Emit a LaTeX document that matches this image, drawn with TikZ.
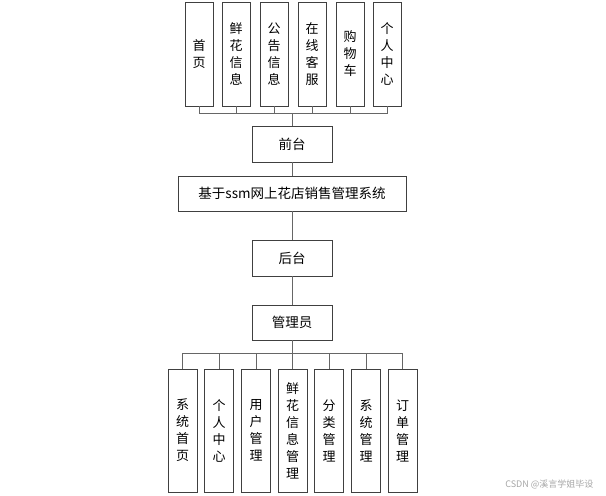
\documentclass[tikz,border=0pt]{standalone}
\usepackage{fontspec}
\setmainfont{Noto Sans CJK SC}

\begin{document}
\begin{tikzpicture}[x=1pt, y=-1pt,
    colbox/.style={draw=black!75, line width=0.9pt, inner sep=0pt, align=center,
                   minimum width=28pt, minimum height=104pt,
                   font=\fontsize{13}{17}\selectfont},
    botbox/.style={colbox, minimum width=29pt, minimum height=123pt},
    rowbox/.style={draw=black!75, line width=0.9pt, inner sep=0pt,
                   minimum width=80pt, minimum height=36pt,
                   font=\fontsize{13.5}{16}\selectfont},
    link/.style={draw=black!60, line width=1pt}
  ]
    \useasboundingbox (0,0) rectangle (606,496);

    % front-end modules
    \node[colbox] (t1) at (199, 54) {首\\页};
    \node[colbox] (t2) at (236, 54) {鲜\\花\\信\\息};
    \node[colbox] (t3) at (274, 54) {公\\告\\信\\息};
    \node[colbox] (t4) at (312, 54) {在\\线\\客\\服};
    \node[colbox] (t5) at (350, 54) {购\\物\\车};
    \node[colbox] (t6) at (387, 54) {个\\人\\中\\心};

    \node[rowbox] (front) at (292, 144)   {前台};
    \node[rowbox, minimum width=228pt, minimum height=35pt]
                  (sys)   at (292, 193.5) {基于ssm网上花店销售管理系统};
    \node[rowbox] (back)  at (292, 258)   {后台};
    \node[rowbox, minimum height=35pt]
                  (admin) at (292, 322.5) {管理员};

    % back-end modules
    \node[botbox] (b1) at (182.5, 430.5) {系\\统\\首\\页};
    \node[botbox] (b2) at (219,   430.5) {个\\人\\中\\心};
    \node[botbox] (b3) at (256,   430.5) {用\\户\\管\\理};
    \node[botbox] (b4) at (292.5, 430.5) {鲜\\花\\信\\息\\管\\理};
    \node[botbox] (b5) at (329,   430.5) {分\\类\\管\\理};
    \node[botbox] (b6) at (366,   430.5) {系\\统\\管\\理};
    \node[botbox] (b7) at (402.5, 430.5) {订\\单\\管\\理};

    \coordinate (topbus) at (292, 113);
    \coordinate (botbus) at (292, 353);

    \foreach \i in {1,...,6}
      \draw[link] (t\i.south) |- (topbus) -- (front.north);
    \draw[link] (front.south) -- (sys.north);
    \draw[link] (sys.south)   -- (back.north);
    \draw[link] (back.south)  -- (admin.north);
    \foreach \i in {1,...,7}
      \draw[link] (admin.south) -- (botbus) -| (b\i.north);

    \node[text=black!35, font=\fontsize{9}{10}\selectfont, anchor=east]
         (mark) at (597, 484) {CSDN @溪言学姐毕设};
  \end{tikzpicture}
\end{document}
